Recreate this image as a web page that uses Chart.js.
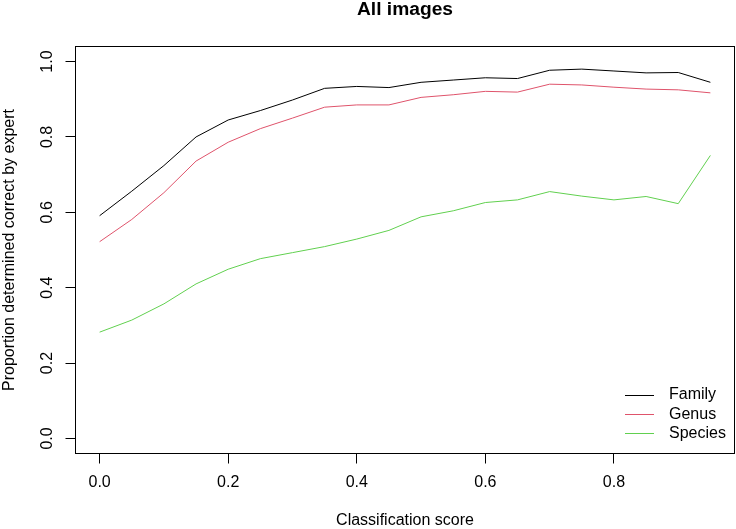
<!DOCTYPE html>
<html>
<head>
<meta charset="utf-8">
<script src="https://cdn.jsdelivr.net/npm/chart.js@4.4.1/dist/chart.umd.min.js"></script>
<style>
body { margin: 0; background: #fff; }
canvas { display: block; }
</style>
</head>
<body>
<canvas id="myChart" width="736" height="529"></canvas>
<script>
// classification score bins (x) and proportions judged correct (y)
const scores = [0, 0.05, 0.1, 0.15, 0.2, 0.25, 0.3, 0.35, 0.4, 0.45, 0.5, 0.55, 0.6, 0.65, 0.7, 0.75, 0.8, 0.85, 0.9, 0.95];
const family = [0.591, 0.656, 0.724, 0.800, 0.845, 0.870, 0.898, 0.929, 0.934, 0.931, 0.945, 0.951, 0.957, 0.955, 0.977, 0.980, 0.975, 0.970, 0.971, 0.945];
const genus = [0.522, 0.581, 0.652, 0.736, 0.786, 0.822, 0.850, 0.879, 0.885, 0.885, 0.905, 0.912, 0.921, 0.919, 0.940, 0.938, 0.932, 0.927, 0.925, 0.917];
const species = [0.282, 0.314, 0.357, 0.410, 0.449, 0.477, 0.493, 0.509, 0.529, 0.552, 0.588, 0.604, 0.626, 0.633, 0.655, 0.643, 0.633, 0.642, 0.623, 0.751];

const seriesNames = ['Family', 'Genus', 'Species'];
const seriesColors = ['#000000', '#DF536B', '#61D04F'];
const xTicks = [0, 0.2, 0.4, 0.6, 0.8];
const yTicks = [0, 0.2, 0.4, 0.6, 0.8, 1.0];

Chart.defaults.font.family = '"Liberation Sans", Arial, sans-serif';
Chart.defaults.font.size = 16;
Chart.defaults.color = '#000';

function toPoints(ys) {
    return scores.map((x, i) => ({ x: x, y: ys[i] }));
}

// R-style box round the plot region
const boxPlugin = {
    id: 'box',
    afterDraw(chart) {
        const a = chart.chartArea;
        const ctx = chart.ctx;
        ctx.save();
        ctx.strokeStyle = '#000';
        ctx.lineWidth = 1;
        ctx.strokeRect(a.left, a.top, a.right - a.left, a.bottom - a.top);
        ctx.restore();
    }
};

// legend in the bottom right corner, no frame
const cornerLegend = {
    id: 'cornerLegend',
    afterDraw(chart) {
        const a = chart.chartArea;
        const ctx = chart.ctx;
        ctx.save();
        ctx.font = '16px "Liberation Sans", Arial, sans-serif';
        ctx.textBaseline = 'middle';
        ctx.textAlign = 'left';
        chart.data.datasets.forEach((ds, i) => {
            const y = a.bottom - 59 + i * 19.2;
            ctx.strokeStyle = ds.borderColor;
            ctx.lineWidth = 1;
            ctx.beginPath();
            ctx.moveTo(a.right - 109.5, Math.round(y) + 0.5);
            ctx.lineTo(a.right - 80.5, Math.round(y) + 0.5);
            ctx.stroke();
            ctx.fillStyle = '#000';
            ctx.fillText(ds.label, a.right - 65.5, y + 0.5);
        });
        ctx.restore();
    }
};

function makeDataset(idx, ys) {
    return {
        label: seriesNames[idx],
        data: toPoints(ys),
        borderColor: seriesColors[idx],
        backgroundColor: seriesColors[idx],
        borderWidth: 1,
        pointRadius: 0,
        tension: 0,
        fill: false
    };
}

new Chart('myChart', {
    type: 'line',
    data: {
        datasets: [
            makeDataset(0, family),
            makeDataset(1, genus),
            makeDataset(2, species)
        ]
    },
    options: {
        responsive: false,
        animation: false,
        devicePixelRatio: 1,
        layout: { padding: { left: 0, right: 1.5, top: 0, bottom: 0 } },
        plugins: {
            legend: { display: false },
            tooltip: { enabled: false },
            title: {
                display: true,
                text: 'All images',
                fullSize: false,
                color: '#000',
                font: { size: 19.2, weight: 'bold', lineHeight: 1 },
                padding: { top: 0, bottom: 27.3 }
            }
        },
        scales: {
            x: {
                type: 'linear',
                min: -0.0375,
                max: 0.9875,
                afterBuildTicks: (s) => { s.ticks = xTicks.map(v => ({ value: v })); },
                afterFit: (s) => { s.height = 75.5; },
                grid: { drawOnChartArea: false, drawTicks: true, tickLength: 10, color: '#000' },
                border: { display: false },
                ticks: {
                    color: '#000',
                    padding: 9.5,
                    maxRotation: 0,
                    autoSkip: false,
                    callback: (v) => Number(v).toFixed(1)
                },
                title: {
                    display: true,
                    text: 'Classification score',
                    color: '#000',
                    font: { size: 16, lineHeight: 1 },
                    padding: { top: 0, bottom: 0.5 }
                }
            },
            y: {
                type: 'linear',
                min: -0.04,
                max: 1.04,
                afterBuildTicks: (s) => { s.ticks = yTicks.map(v => ({ value: v })); },
                afterFit: (s) => { s.width = 75.5; },
                grid: { drawOnChartArea: false, drawTicks: true, tickLength: 10, color: '#000' },
                border: { display: false },
                ticks: {
                    color: '#000',
                    padding: 7,
                    minRotation: 90,
                    maxRotation: 90,
                    crossAlign: 'center',
                    autoSkip: false,
                    callback: (v) => Number(v).toFixed(1)
                },
                title: {
                    display: true,
                    text: 'Proportion determined correct by expert',
                    color: '#000',
                    font: { size: 16, lineHeight: 1 },
                    padding: { top: 1.1, bottom: 0 }
                }
            }
        }
    },
    plugins: [boxPlugin, cornerLegend]
});
</script>
</body>
</html>
